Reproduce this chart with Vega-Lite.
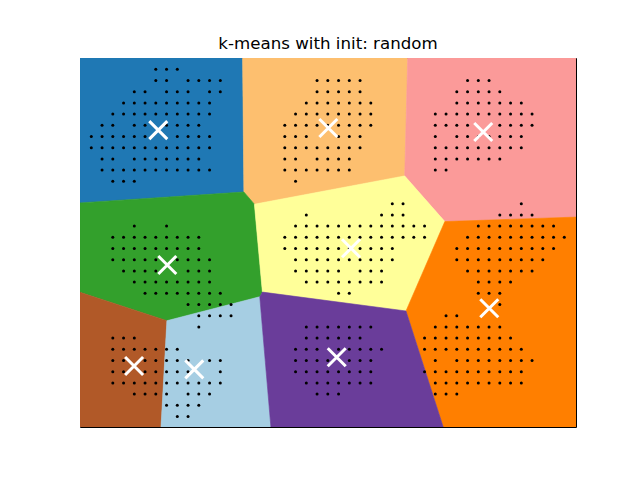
{
  "$schema": "https://vega.github.io/schema/vega-lite/v6.json",
  "width": 496,
  "height": 369,
  "autosize": {"type": "none"},
  "padding": {"left": 80, "top": 58, "right": 64, "bottom": 53},
  "background": "white",
  "title": {"text": "k-means with init: random", "font": "DejaVu Sans", "fontSize": 16.67, "fontWeight": "normal", "color": "black", "baseline": "bottom", "offset": 5, "dy": 17},
  "config": {"view": {"stroke": "black", "strokeWidth": 1}},
  "datasets": {
    "regions": [
      {"r": "blue", "k": 0, "x": -1.051, "y": 32.009}, {"r": "blue", "k": 1, "x": 14.074, "y": 32.009}, {"r": "blue", "k": 2, "x": 14.195, "y": 20.045}, {"r": "blue", "k": 3, "x": -1.051, "y": 19.071},
      {"r": "lorange", "k": 0, "x": 14.074, "y": 32.009}, {"r": "lorange", "k": 1, "x": 29.433, "y": 32.009}, {"r": "lorange", "k": 2, "x": 29.153, "y": 21.482}, {"r": "lorange", "k": 3, "x": 15.172, "y": 18.955}, {"r": "lorange", "k": 4, "x": 14.195, "y": 20.045},
      {"r": "pink", "k": 0, "x": 29.433, "y": 32.009}, {"r": "pink", "k": 1, "x": 45.088, "y": 32.009}, {"r": "pink", "k": 2, "x": 45.088, "y": 17.804}, {"r": "pink", "k": 3, "x": 32.884, "y": 17.402}, {"r": "pink", "k": 4, "x": 29.153, "y": 21.482},
      {"r": "green", "k": 0, "x": -1.051, "y": 19.071}, {"r": "green", "k": 1, "x": 14.195, "y": 20.045}, {"r": "green", "k": 2, "x": 15.172, "y": 18.955}, {"r": "green", "k": 3, "x": 15.916, "y": 11.107}, {"r": "green", "k": 4, "x": 15.674, "y": 10.696}, {"r": "green", "k": 5, "x": 7.033, "y": 8.554}, {"r": "green", "k": 6, "x": -1.051, "y": 11.089},
      {"r": "yellow", "k": 0, "x": 15.172, "y": 18.955}, {"r": "yellow", "k": 1, "x": 29.153, "y": 21.482}, {"r": "yellow", "k": 2, "x": 32.884, "y": 17.402}, {"r": "yellow", "k": 3, "x": 29.274, "y": 9.42}, {"r": "yellow", "k": 4, "x": 15.916, "y": 11.107},
      {"r": "orange", "k": 0, "x": 32.884, "y": 17.402}, {"r": "orange", "k": 1, "x": 45.088, "y": 17.804}, {"r": "orange", "k": 2, "x": 45.088, "y": -0.9375}, {"r": "orange", "k": 3, "x": 32.735, "y": -0.9375}, {"r": "orange", "k": 4, "x": 29.274, "y": 9.42},
      {"r": "brown", "k": 0, "x": -1.051, "y": 11.089}, {"r": "brown", "k": 1, "x": 7.033, "y": 8.554}, {"r": "brown", "k": 2, "x": 6.484, "y": -0.9375}, {"r": "brown", "k": 3, "x": -1.051, "y": -0.9375},
      {"r": "lblue", "k": 0, "x": 7.033, "y": 8.554}, {"r": "lblue", "k": 1, "x": 15.674, "y": 10.696}, {"r": "lblue", "k": 2, "x": 16.707, "y": -0.9375}, {"r": "lblue", "k": 3, "x": 6.484, "y": -0.9375},
      {"r": "purple", "k": 0, "x": 15.674, "y": 10.696}, {"r": "purple", "k": 1, "x": 15.916, "y": 11.107}, {"r": "purple", "k": 2, "x": 29.274, "y": 9.42}, {"r": "purple", "k": 3, "x": 32.735, "y": -0.9375}, {"r": "purple", "k": 4, "x": 16.707, "y": -0.9375}
    ],
    "centers": [
      {"x": 6.23, "y": 25.57}, {"x": 22.05, "y": 25.76}, {"x": 36.46, "y": 25.4},
      {"x": 7.07, "y": 13.53}, {"x": 24.16, "y": 15.02}, {"x": 37.02, "y": 9.66},
      {"x": 3.98, "y": 4.51}, {"x": 9.58, "y": 4.21}, {"x": 22.83, "y": 5.29}
    ],
    "points": [
      {"x":6,"y":31},{"x":7,"y":31},{"x":8,"y":31},
      {"x":6,"y":30},{"x":7,"y":30},{"x":9,"y":30},{"x":10,"y":30},{"x":11,"y":30},{"x":12,"y":30},{"x":21,"y":30},{"x":22,"y":30},{"x":23,"y":30},{"x":24,"y":30},{"x":25,"y":30},{"x":35,"y":30},{"x":36,"y":30},{"x":37,"y":30},
      {"x":4,"y":29},{"x":5,"y":29},{"x":7,"y":29},{"x":8,"y":29},{"x":9,"y":29},{"x":11,"y":29},{"x":12,"y":29},{"x":21,"y":29},{"x":22,"y":29},{"x":23,"y":29},{"x":24,"y":29},{"x":25,"y":29},{"x":34,"y":29},{"x":35,"y":29},{"x":36,"y":29},{"x":37,"y":29},{"x":38,"y":29},
      {"x":3,"y":28},{"x":4,"y":28},{"x":5,"y":28},{"x":6,"y":28},{"x":7,"y":28},{"x":8,"y":28},{"x":9,"y":28},{"x":10,"y":28},{"x":11,"y":28},{"x":20,"y":28},{"x":21,"y":28},{"x":22,"y":28},{"x":23,"y":28},{"x":24,"y":28},{"x":25,"y":28},{"x":26,"y":28},{"x":34,"y":28},{"x":35,"y":28},{"x":36,"y":28},{"x":37,"y":28},{"x":38,"y":28},{"x":39,"y":28},{"x":40,"y":28},
      {"x":2,"y":27},{"x":3,"y":27},{"x":4,"y":27},{"x":5,"y":27},{"x":6,"y":27},{"x":7,"y":27},{"x":8,"y":27},{"x":9,"y":27},{"x":10,"y":27},{"x":11,"y":27},{"x":19,"y":27},{"x":20,"y":27},{"x":21,"y":27},{"x":22,"y":27},{"x":23,"y":27},{"x":24,"y":27},{"x":25,"y":27},{"x":26,"y":27},{"x":32,"y":27},{"x":33,"y":27},{"x":34,"y":27},{"x":35,"y":27},{"x":36,"y":27},{"x":37,"y":27},{"x":38,"y":27},{"x":39,"y":27},{"x":40,"y":27},{"x":41,"y":27},
      {"x":1,"y":26},{"x":2,"y":26},{"x":4,"y":26},{"x":5,"y":26},{"x":7,"y":26},{"x":8,"y":26},{"x":9,"y":26},{"x":10,"y":26},{"x":18,"y":26},{"x":19,"y":26},{"x":20,"y":26},{"x":21,"y":26},{"x":22,"y":26},{"x":23,"y":26},{"x":24,"y":26},{"x":25,"y":26},{"x":26,"y":26},{"x":32,"y":26},{"x":33,"y":26},{"x":34,"y":26},{"x":35,"y":26},{"x":38,"y":26},{"x":39,"y":26},{"x":40,"y":26},{"x":41,"y":26},
      {"x":0,"y":25},{"x":1,"y":25},{"x":2,"y":25},{"x":3,"y":25},{"x":4,"y":25},{"x":5,"y":25},{"x":8,"y":25},{"x":9,"y":25},{"x":10,"y":25},{"x":11,"y":25},{"x":18,"y":25},{"x":19,"y":25},{"x":20,"y":25},{"x":23,"y":25},{"x":24,"y":25},{"x":25,"y":25},{"x":32,"y":25},{"x":34,"y":25},{"x":35,"y":25},{"x":36,"y":25},{"x":37,"y":25},{"x":38,"y":25},{"x":39,"y":25},{"x":40,"y":25},
      {"x":0,"y":24},{"x":1,"y":24},{"x":2,"y":24},{"x":3,"y":24},{"x":4,"y":24},{"x":5,"y":24},{"x":6,"y":24},{"x":7,"y":24},{"x":8,"y":24},{"x":9,"y":24},{"x":10,"y":24},{"x":11,"y":24},{"x":18,"y":24},{"x":19,"y":24},{"x":20,"y":24},{"x":21,"y":24},{"x":22,"y":24},{"x":23,"y":24},{"x":24,"y":24},{"x":25,"y":24},{"x":32,"y":24},{"x":33,"y":24},{"x":34,"y":24},{"x":35,"y":24},{"x":36,"y":24},{"x":37,"y":24},{"x":38,"y":24},{"x":39,"y":24},{"x":40,"y":24},
      {"x":1,"y":23},{"x":2,"y":23},{"x":4,"y":23},{"x":5,"y":23},{"x":6,"y":23},{"x":7,"y":23},{"x":8,"y":23},{"x":9,"y":23},{"x":10,"y":23},{"x":18,"y":23},{"x":19,"y":23},{"x":21,"y":23},{"x":22,"y":23},{"x":23,"y":23},{"x":24,"y":23},{"x":32,"y":23},{"x":33,"y":23},{"x":34,"y":23},{"x":35,"y":23},{"x":36,"y":23},{"x":37,"y":23},{"x":38,"y":23},
      {"x":1,"y":22},{"x":2,"y":22},{"x":3,"y":22},{"x":4,"y":22},{"x":5,"y":22},{"x":6,"y":22},{"x":7,"y":22},{"x":8,"y":22},{"x":9,"y":22},{"x":10,"y":22},{"x":11,"y":22},{"x":18,"y":22},{"x":19,"y":22},{"x":20,"y":22},{"x":21,"y":22},{"x":22,"y":22},{"x":23,"y":22},{"x":24,"y":22},{"x":32,"y":22},{"x":33,"y":22},
      {"x":2,"y":21},{"x":3,"y":21},{"x":4,"y":21},{"x":19,"y":21},
      {"x":28,"y":19},{"x":29,"y":19},{"x":40,"y":19},
      {"x":20,"y":18},{"x":27,"y":18},{"x":28,"y":18},{"x":29,"y":18},{"x":38,"y":18},{"x":39,"y":18},{"x":40,"y":18},{"x":41,"y":18},
      {"x":4,"y":17},{"x":7,"y":17},{"x":19,"y":17},{"x":20,"y":17},{"x":21,"y":17},{"x":22,"y":17},{"x":23,"y":17},{"x":24,"y":17},{"x":25,"y":17},{"x":26,"y":17},{"x":27,"y":17},{"x":28,"y":17},{"x":29,"y":17},{"x":30,"y":17},{"x":31,"y":17},{"x":36,"y":17},{"x":37,"y":17},{"x":38,"y":17},{"x":39,"y":17},{"x":40,"y":17},{"x":41,"y":17},{"x":42,"y":17},{"x":43,"y":17},
      {"x":2,"y":16},{"x":3,"y":16},{"x":4,"y":16},{"x":5,"y":16},{"x":6,"y":16},{"x":7,"y":16},{"x":8,"y":16},{"x":9,"y":16},{"x":10,"y":16},{"x":18,"y":16},{"x":19,"y":16},{"x":20,"y":16},{"x":21,"y":16},{"x":22,"y":16},{"x":23,"y":16},{"x":24,"y":16},{"x":25,"y":16},{"x":26,"y":16},{"x":27,"y":16},{"x":28,"y":16},{"x":29,"y":16},{"x":30,"y":16},{"x":31,"y":16},{"x":35,"y":16},{"x":36,"y":16},{"x":37,"y":16},{"x":38,"y":16},{"x":39,"y":16},{"x":40,"y":16},{"x":41,"y":16},{"x":42,"y":16},{"x":43,"y":16},{"x":44,"y":16},
      {"x":2,"y":15},{"x":3,"y":15},{"x":4,"y":15},{"x":5,"y":15},{"x":6,"y":15},{"x":7,"y":15},{"x":8,"y":15},{"x":9,"y":15},{"x":10,"y":15},{"x":18,"y":15},{"x":19,"y":15},{"x":20,"y":15},{"x":21,"y":15},{"x":22,"y":15},{"x":23,"y":15},{"x":24,"y":15},{"x":25,"y":15},{"x":26,"y":15},{"x":27,"y":15},{"x":28,"y":15},{"x":34,"y":15},{"x":35,"y":15},{"x":36,"y":15},{"x":37,"y":15},{"x":38,"y":15},{"x":39,"y":15},{"x":40,"y":15},{"x":41,"y":15},{"x":42,"y":15},{"x":43,"y":15},
      {"x":2,"y":14},{"x":3,"y":14},{"x":4,"y":14},{"x":5,"y":14},{"x":6,"y":14},{"x":8,"y":14},{"x":9,"y":14},{"x":10,"y":14},{"x":11,"y":14},{"x":19,"y":14},{"x":20,"y":14},{"x":21,"y":14},{"x":22,"y":14},{"x":23,"y":14},{"x":24,"y":14},{"x":25,"y":14},{"x":26,"y":14},{"x":27,"y":14},{"x":28,"y":14},{"x":34,"y":14},{"x":35,"y":14},{"x":36,"y":14},{"x":37,"y":14},{"x":38,"y":14},{"x":39,"y":14},{"x":40,"y":14},{"x":41,"y":14},{"x":42,"y":14},
      {"x":3,"y":13},{"x":4,"y":13},{"x":5,"y":13},{"x":6,"y":13},{"x":9,"y":13},{"x":10,"y":13},{"x":11,"y":13},{"x":19,"y":13},{"x":20,"y":13},{"x":21,"y":13},{"x":22,"y":13},{"x":23,"y":13},{"x":25,"y":13},{"x":26,"y":13},{"x":27,"y":13},{"x":35,"y":13},{"x":36,"y":13},{"x":37,"y":13},{"x":38,"y":13},{"x":39,"y":13},{"x":40,"y":13},{"x":41,"y":13},
      {"x":4,"y":12},{"x":5,"y":12},{"x":6,"y":12},{"x":7,"y":12},{"x":8,"y":12},{"x":9,"y":12},{"x":10,"y":12},{"x":11,"y":12},{"x":20,"y":12},{"x":21,"y":12},{"x":22,"y":12},{"x":23,"y":12},{"x":24,"y":12},{"x":25,"y":12},{"x":26,"y":12},{"x":27,"y":12},{"x":36,"y":12},{"x":37,"y":12},{"x":38,"y":12},{"x":39,"y":12},
      {"x":5,"y":11},{"x":6,"y":11},{"x":7,"y":11},{"x":8,"y":11},{"x":9,"y":11},{"x":10,"y":11},{"x":11,"y":11},{"x":12,"y":11},{"x":23,"y":11},{"x":24,"y":11},{"x":36,"y":11},{"x":37,"y":11},{"x":38,"y":11},
      {"x":9,"y":10},{"x":10,"y":10},{"x":11,"y":10},{"x":12,"y":10},{"x":13,"y":10},{"x":38,"y":10},
      {"x":10,"y":9},{"x":11,"y":9},{"x":12,"y":9},{"x":13,"y":9},{"x":33,"y":9},{"x":34,"y":9},
      {"x":10,"y":8},{"x":20,"y":8},{"x":21,"y":8},{"x":22,"y":8},{"x":23,"y":8},{"x":24,"y":8},{"x":25,"y":8},{"x":26,"y":8},{"x":32,"y":8},{"x":33,"y":8},{"x":34,"y":8},{"x":35,"y":8},{"x":36,"y":8},{"x":37,"y":8},{"x":38,"y":8},
      {"x":2,"y":7},{"x":3,"y":7},{"x":4,"y":7},{"x":20,"y":7},{"x":21,"y":7},{"x":22,"y":7},{"x":23,"y":7},{"x":24,"y":7},{"x":25,"y":7},{"x":31,"y":7},{"x":32,"y":7},{"x":33,"y":7},{"x":34,"y":7},{"x":35,"y":7},{"x":36,"y":7},{"x":37,"y":7},{"x":38,"y":7},{"x":39,"y":7},
      {"x":2,"y":6},{"x":3,"y":6},{"x":4,"y":6},{"x":5,"y":6},{"x":6,"y":6},{"x":7,"y":6},{"x":8,"y":6},{"x":19,"y":6},{"x":20,"y":6},{"x":21,"y":6},{"x":23,"y":6},{"x":24,"y":6},{"x":25,"y":6},{"x":26,"y":6},{"x":27,"y":6},{"x":31,"y":6},{"x":32,"y":6},{"x":33,"y":6},{"x":34,"y":6},{"x":35,"y":6},{"x":36,"y":6},{"x":37,"y":6},{"x":38,"y":6},{"x":39,"y":6},{"x":40,"y":6},
      {"x":2,"y":5},{"x":3,"y":5},{"x":5,"y":5},{"x":6,"y":5},{"x":7,"y":5},{"x":8,"y":5},{"x":9,"y":5},{"x":11,"y":5},{"x":12,"y":5},{"x":19,"y":5},{"x":20,"y":5},{"x":21,"y":5},{"x":22,"y":5},{"x":24,"y":5},{"x":25,"y":5},{"x":26,"y":5},{"x":32,"y":5},{"x":34,"y":5},{"x":35,"y":5},{"x":36,"y":5},{"x":37,"y":5},{"x":38,"y":5},{"x":39,"y":5},{"x":40,"y":5},{"x":41,"y":5},
      {"x":2,"y":4},{"x":3,"y":4},{"x":5,"y":4},{"x":6,"y":4},{"x":7,"y":4},{"x":8,"y":4},{"x":9,"y":4},{"x":12,"y":4},{"x":19,"y":4},{"x":20,"y":4},{"x":21,"y":4},{"x":22,"y":4},{"x":23,"y":4},{"x":24,"y":4},{"x":25,"y":4},{"x":26,"y":4},{"x":31,"y":4},{"x":32,"y":4},{"x":33,"y":4},{"x":34,"y":4},{"x":35,"y":4},{"x":36,"y":4},{"x":37,"y":4},{"x":38,"y":4},{"x":39,"y":4},{"x":40,"y":4},
      {"x":2,"y":3},{"x":3,"y":3},{"x":4,"y":3},{"x":5,"y":3},{"x":6,"y":3},{"x":7,"y":3},{"x":8,"y":3},{"x":9,"y":3},{"x":10,"y":3},{"x":11,"y":3},{"x":12,"y":3},{"x":20,"y":3},{"x":21,"y":3},{"x":22,"y":3},{"x":23,"y":3},{"x":24,"y":3},{"x":25,"y":3},{"x":26,"y":3},{"x":32,"y":3},{"x":33,"y":3},{"x":34,"y":3},{"x":35,"y":3},{"x":36,"y":3},{"x":37,"y":3},{"x":38,"y":3},{"x":39,"y":3},{"x":40,"y":3},
      {"x":4,"y":2},{"x":5,"y":2},{"x":6,"y":2},{"x":7,"y":2},{"x":9,"y":2},{"x":10,"y":2},{"x":11,"y":2},{"x":21,"y":2},{"x":22,"y":2},{"x":23,"y":2},{"x":32,"y":2},{"x":33,"y":2},{"x":34,"y":2},
      {"x":7,"y":1},{"x":8,"y":1},{"x":9,"y":1},{"x":10,"y":1},
      {"x":8,"y":0},{"x":9,"y":0}
    ]
  },
  "encoding": {
    "x": {"field": "x", "type": "quantitative", "scale": {"domain": [-1.051, 45.088], "nice": false, "zero": false}, "axis": null},
    "y": {"field": "y", "type": "quantitative", "scale": {"domain": [-0.9375, 32.009], "nice": false, "zero": false}, "axis": null}
  },
  "layer": [
    {
      "data": {"name": "regions"},
      "mark": {"type": "line", "interpolate": "linear-closed", "filled": true, "strokeWidth": 0.6, "fillOpacity": 1, "clip": true},
      "encoding": {
        "order": {"field": "k", "type": "quantitative"},
        "detail": {"field": "r", "type": "nominal"},
        "fill": {"field": "r", "type": "nominal", "legend": null, "scale": {"domain": ["blue", "lorange", "pink", "green", "yellow", "orange", "brown", "lblue", "purple"], "range": ["#1f78b4", "#fdbf6f", "#fb9a99", "#33a02c", "#ffff99", "#ff7f00", "#b15928", "#a6cee3", "#6a3d9a"]}},
        "stroke": {"field": "r", "type": "nominal", "legend": null, "scale": {"domain": ["blue", "lorange", "pink", "green", "yellow", "orange", "brown", "lblue", "purple"], "range": ["#1f78b4", "#fdbf6f", "#fb9a99", "#33a02c", "#ffff99", "#ff7f00", "#b15928", "#a6cee3", "#6a3d9a"]}}
      }
    },
    {
      "data": {"name": "points"},
      "mark": {"type": "circle", "color": "black", "size": 9, "opacity": 1}
    },
    {
      "data": {"name": "centers"},
      "mark": {"type": "point", "shape": "M-1,-1L1,1M-1,1L1,-1", "filled": false, "stroke": "white", "strokeWidth": 3, "size": 324, "opacity": 1}
    }
  ]
}
